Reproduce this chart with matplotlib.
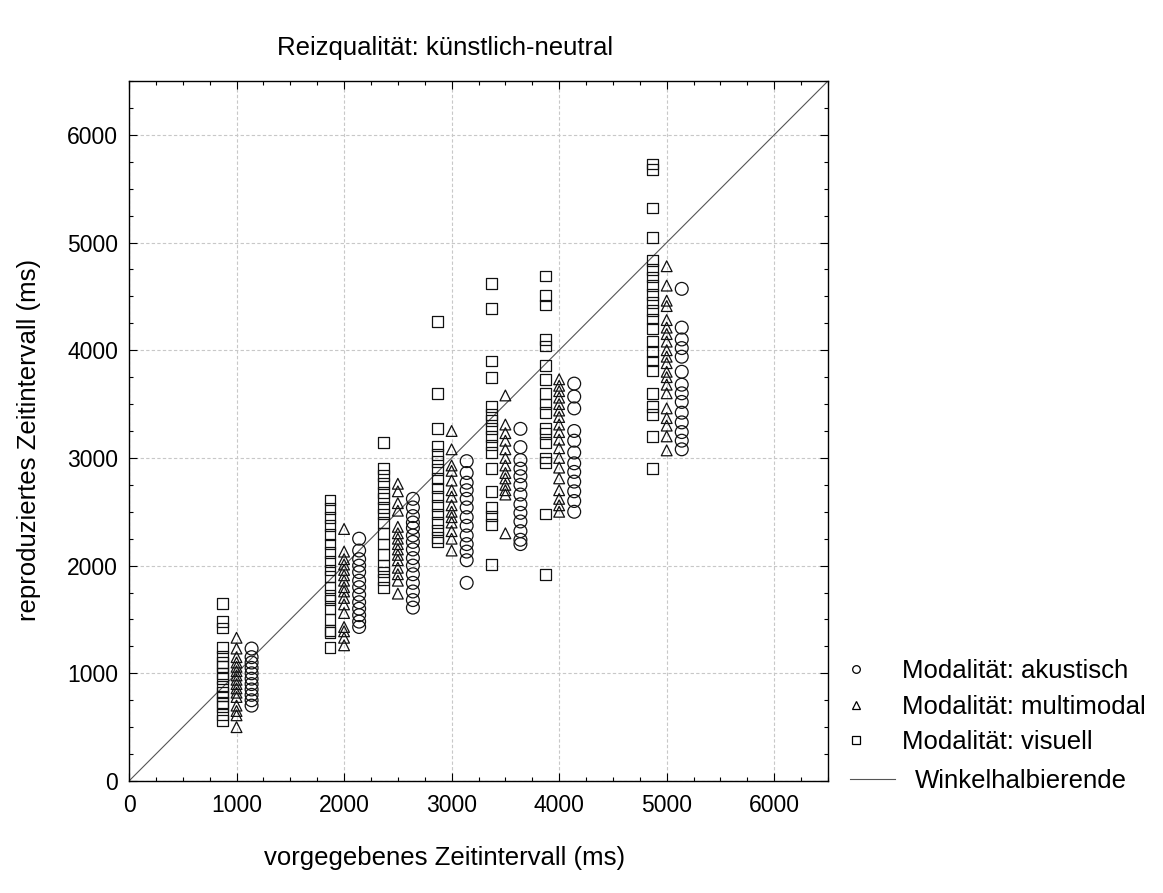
import matplotlib
matplotlib.use("Agg")
import matplotlib.pyplot as plt
from matplotlib.lines import Line2D
from matplotlib.ticker import MultipleLocator

plt.rcParams['font.family'] = ['Liberation Sans', 'DejaVu Sans']

# nominal intervals (ms)
intervals = [1000, 2000, 2500, 3000, 3500, 4000, 5000]

visuell = {
    1000: [1650, 1480, 1420, 1240, 1160, 1100, 1060, 1000, 950, 880, 820, 790, 730, 690, 620, 560],
    2000: [2610, 2530, 2450, 2370, 2290, 2200, 2120, 2040, 1960, 1900, 1800, 1720, 1680, 1600, 1500, 1400, 1380, 1240],
    2500: [3140, 2900, 2840, 2760, 2680, 2620, 2540, 2480, 2400, 2300, 2200, 2100, 2000, 1940, 1870, 1800],
    3000: [4270, 3600, 3270, 3110, 3030, 2970, 2890, 2810, 2720, 2640, 2560, 2480, 2400, 2330, 2260, 2220],
    3500: [4620, 4390, 3900, 3750, 3480, 3400, 3350, 3270, 3200, 3120, 3050, 2900, 2690, 2540, 2460, 2380, 2010],
    4000: [4690, 4510, 4420, 4100, 4040, 3860, 3730, 3600, 3500, 3420, 3270, 3230, 3140, 3000, 2960, 2480, 1920],
    5000: [5730, 5680, 5320, 5050, 4830, 4750, 4680, 4600, 4520, 4440, 4370, 4290, 4200, 4080, 3990, 3900, 3810, 3600, 3480, 3400, 3200, 2900],
}
multimodal = {
    1000: [1330, 1230, 1150, 1100, 1060, 1020, 980, 940, 900, 860, 820, 780, 700, 650, 610, 500],
    2000: [2340, 2130, 2060, 2010, 1960, 1910, 1860, 1800, 1760, 1700, 1640, 1560, 1430, 1390, 1330, 1260],
    2500: [2760, 2690, 2580, 2510, 2360, 2300, 2250, 2200, 2150, 2100, 2050, 1980, 1920, 1860, 1740],
    3000: [3250, 3080, 2930, 2880, 2790, 2700, 2640, 2560, 2500, 2450, 2400, 2320, 2250, 2140],
    3500: [3580, 3310, 3230, 3160, 3080, 3000, 2930, 2860, 2810, 2750, 2700, 2660, 2300],
    4000: [3730, 3670, 3620, 3560, 3500, 3440, 3380, 3310, 3240, 3170, 3090, 3000, 2910, 2810, 2700, 2620, 2560, 2500],
    5000: [4780, 4600, 4460, 4410, 4280, 4210, 4150, 4080, 4000, 3940, 3880, 3800, 3750, 3680, 3600, 3460, 3370, 3300, 3200, 3070],
}
akustisch = {
    1000: [1230, 1150, 1100, 1050, 1000, 950, 900, 850, 800, 750, 700],
    2000: [2250, 2140, 2060, 2000, 1940, 1860, 1800, 1730, 1660, 1600, 1540, 1480, 1430],
    2500: [2620, 2540, 2460, 2400, 2350, 2280, 2220, 2150, 2070, 2000, 1920, 1840, 1760, 1680, 1610],
    3000: [2970, 2860, 2770, 2700, 2620, 2540, 2450, 2370, 2280, 2200, 2130, 2050, 1840],
    3500: [3270, 3100, 2980, 2900, 2830, 2750, 2660, 2570, 2490, 2410, 2320, 2240, 2200],
    4000: [3690, 3570, 3460, 3250, 3160, 3050, 2950, 2870, 2780, 2690, 2600, 2500],
    5000: [4570, 4210, 4100, 4020, 3940, 3800, 3680, 3600, 3520, 3420, 3330, 3240, 3160, 3080],
}

labels = ["Modalität: akustisch", "Modalität: multimodal", "Modalität: visuell"]
title = "Reizqualität: künstlich-neutral"
xlabel = "vorgegebenes Zeitintervall (ms)"
ylabel = "reproduziertes Zeitintervall (ms)"
line_label = "Winkelhalbierende"

W, H = 1163, 893
FS = 18.5
fig = plt.figure(figsize=(W / 100, H / 100), dpi=100)
ax = fig.add_axes([129 / W, 1 - 781 / H, 699 / W, 700 / H])

offsets = {"visuell": -130, "multimodal": 0, "akustisch": 140}
style = dict(facecolor='none', edgecolors='#111111', linewidths=0.9, zorder=3)
for iv in intervals:
    ys = visuell[iv]
    ax.scatter([iv + offsets["visuell"]] * len(ys), ys, marker='s', s=60, **style)
    ys = multimodal[iv]
    ax.scatter([iv + offsets["multimodal"]] * len(ys), ys, marker='^', s=60, **style)
    ys = akustisch[iv]
    ax.scatter([iv + offsets["akustisch"]] * len(ys), ys, marker='o', s=85, **style)

ax.plot([0, 6500], [0, 6500], color='#555555', lw=0.8, zorder=2)

ax.set_xlim(0, 6500)
ax.set_ylim(0, 6500)
ax.xaxis.set_major_locator(MultipleLocator(1000))
ax.yaxis.set_major_locator(MultipleLocator(1000))
ax.xaxis.set_minor_locator(MultipleLocator(250))
ax.yaxis.set_minor_locator(MultipleLocator(250))
ax.grid(True, which='major', color='#c8c8c8', linestyle=(0, (3, 2)), linewidth=0.8, zorder=0)
ax.tick_params(which='both', direction='in', top=True, right=True, width=0.8)
ax.tick_params(which='major', length=6, pad=9, labelsize=16.5)
ax.tick_params(axis='y', which='major', pad=8)
ax.tick_params(which='minor', length=3)
for sp in ax.spines.values():
    sp.set_linewidth(1.0)

fig.text(445 / W, 1 - 55 / H, title, ha='center', va='baseline', fontsize=FS)
fig.text(445 / W, 1 - 865 / H, xlabel, ha='center', va='baseline', fontsize=FS)
fig.text(29 / W, 1 - 440 / H, ylabel, ha='center', va='center', fontsize=FS, rotation=90)

mk = dict(linestyle='none', markerfacecolor='none', markeredgecolor='black', markeredgewidth=0.9, markersize=5.5)
handles = [Line2D([], [], marker='o', **mk),
           Line2D([], [], marker='^', **mk),
           Line2D([], [], marker='s', **mk)]
leg1 = fig.legend(handles, labels, loc='upper left', bbox_to_anchor=(843 / W, 1 - 659 / H),
                  frameon=False, fontsize=FS, handlelength=1.0, handletextpad=1.3,
                  labelspacing=0.45, borderpad=0, borderaxespad=0)
leg2 = fig.legend([Line2D([], [], color='#555555', lw=0.8)], [line_label], loc='upper left',
                  bbox_to_anchor=(850 / W, 1 - 769 / H), frameon=False, fontsize=FS,
                  handlelength=1.75, handletextpad=0.78, borderpad=0, borderaxespad=0)

fig.savefig("out.png", dpi=100)
